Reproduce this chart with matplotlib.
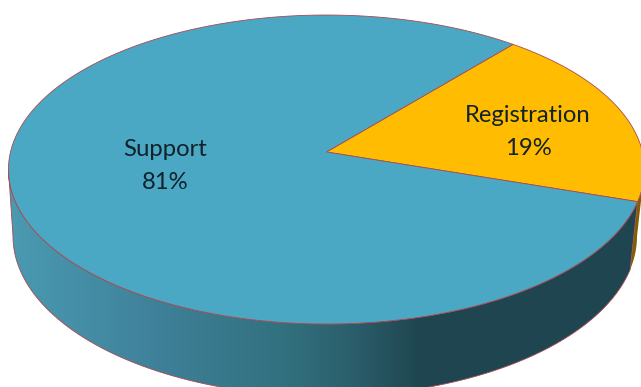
"""
3D-style pie chart of request types.
"""

import matplotlib as mpl

mpl.use("Agg")

import matplotlib.pyplot as plt
import numpy as np
from matplotlib.colors import LinearSegmentedColormap
from matplotlib.patches import Polygon


LABELS = ["Registration", "Support"]
SHARES = [19, 81]
TOP_COLORS = ["#FFBC00", "#4BA8C4"]
START_ANGLE = 50.1
LABEL_POS = [(528, 132), (165, 166)]

WIDTH, HEIGHT = 641, 387
EDGE = "#A84A50"
CENTER_X = 326.5
TILT = 0.1133
# angles where the rim turns back, the wall is hidden beyond them
RIGHT_SILHOUETTE = -6.5
LEFT_SILHOUETTE = -173.5


def rim(angles, center_x, apex_y, rx, ry):
    # project a circle on the tilted pie plane, near side looks bigger
    theta = np.radians(angles)
    u, v = np.cos(theta), -np.sin(theta)
    scale = 1 / (1 - TILT * v)
    return np.column_stack([center_x + rx * u * scale, apex_y + ry * v * scale])


def top_rim(angles):
    return rim(angles, CENTER_X, 152, 316, 152.5)


def bottom_rim(angles):
    return rim(angles, 325, 218, 310, 158)


def wall(start, stop):
    angles = np.linspace(start, stop, 300)
    return np.vstack([top_rim(angles), bottom_rim(angles)[::-1]])


fig = plt.figure(figsize=(WIDTH / 100, HEIGHT / 100), dpi=100)
ax = fig.add_axes([0, 0, 1, 1])

edges = START_ANGLE - np.cumsum([0] + SHARES) * 3.6

# side walls first, the top disc covers whatever is behind it
ax.add_patch(Polygon(wall(edges[1], RIGHT_SILHOUETTE), facecolor="#7F6000", edgecolor="none", zorder=1))

support_wall = Polygon(wall(edges[1], LEFT_SILHOUETTE), facecolor="none", edgecolor=EDGE, linewidth=0.6, zorder=3)
ax.add_patch(support_wall)
shade = LinearSegmentedColormap.from_list(
    "wall",
    [(0.0, "#4A9AB2"), (0.23, "#3F819A"), (0.43, "#32717F"), (0.54, "#2B5F6C"), (0.65, "#1F4650"), (1.0, "#1F4650")],
)
grad = ax.imshow(
    np.linspace(0, 1, 256).reshape(1, -1),
    extent=(10, WIDTH, HEIGHT, 0),
    aspect="auto",
    cmap=shade,
    zorder=2,
)
grad.set_clip_path(support_wall)

for i, color in enumerate(TOP_COLORS):
    angles = np.linspace(edges[i], edges[i + 1], 400)
    points = np.vstack([[(CENTER_X, 152)], top_rim(angles)])
    ax.add_patch(Polygon(points, facecolor=color, edgecolor=EDGE, linewidth=0.6, zorder=4))

for label, share, (x, y) in zip(LABELS, SHARES, LABEL_POS):
    ax.text(
        x, y, f"{label}\n{share}%",
        ha="center", va="center",
        family="Lato", fontsize=17.2, color="#10222A",
        linespacing=1.66, zorder=5,
    )

ax.set_xlim(0, WIDTH)
ax.set_ylim(HEIGHT, 0)
ax.axis("off")

fig.savefig("out.png", dpi=100)
plt.close(fig)
